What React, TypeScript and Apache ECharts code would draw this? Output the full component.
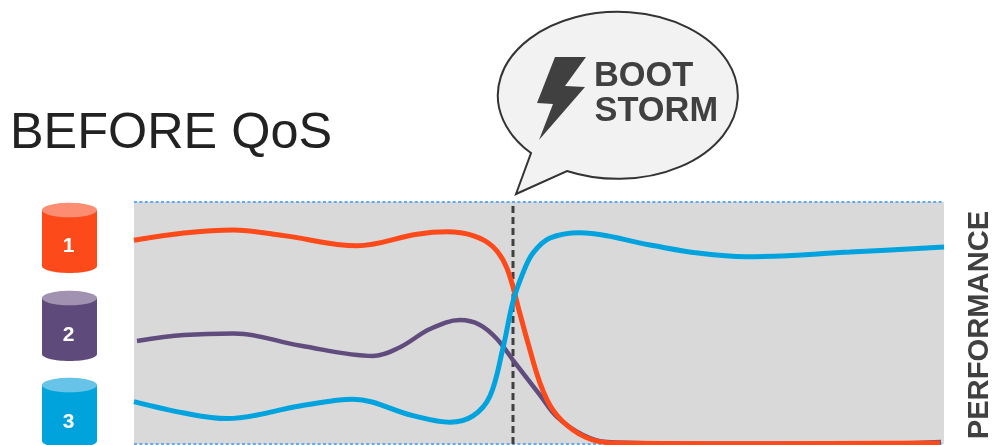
import React, { useEffect, useRef } from "react";
import * as echarts from "echarts";

// Performance of three volumes over time, on a 0-100 scale.
const volumeOne: [number, number][] = [[0, 84.2], [50, 87.2], [100, 88.4], [150, 86.1], [223, 81.9], [283, 86.7], [313, 87.7], [339, 86.1], [359, 81.5], [373, 72.6], [386, 53.7], [394, 41.7], [406, 25.2], [419, 14], [439, 5.8], [463, 1.2], [486, 0.4], [626, 0.1], [806, 0.4]];
const volumeTwo: [number, number][] = [[3, 42.6], [50, 45], [100, 45.7], [167, 40.6], [239, 36.4], [266, 40], [296, 47.5], [326, 51.2], [346, 49.2], [363, 43.4], [379, 34.7], [406, 20.2], [423, 11.2], [449, 3.7], [473, 0.8], [566, 0.1], [766, 0.2], [807, 0.8]];
const volumeThree: [number, number][] = [[0, 17.5], [50, 12.8], [93, 10.5], [167, 15.8], [219, 18.5], [279, 11.7], [316, 9], [339, 11.6], [356, 19.8], [369, 39.7], [379, 58.8], [389, 70.7], [399, 78.9], [416, 85.1], [446, 87.3], [516, 82.2], [566, 78.8], [612, 77.4], [716, 79.3], [810, 81.4]];
const bootStormMark: [number, number][] = [[379, 0], [379, 100]];
const volumeLabels = ["1", "2", "3"];
const bodyColors = ["#fc4a1a", "#5f4b7b", "#00a3dc"];
const lidColors = ["#fd8d72", "#a092b0", "#68c3e8"];
const lidCentres = [210, 298, 385];
const labelCentres = [244, 333, 420];

const FONT = '"Liberation Sans", Arial, sans-serif';
const INK = "#404040";

echarts.graphic.registerShape(
  "speechBubble",
  echarts.graphic.extendPath("M531 153 A120 83.5 0 1 1 567 171 L516 194 Z", {})
);

// One drum icon: body with a rounded base, lighter lid and a number on it.
function cylinder(i: number) {
  const cy = lidCentres[i];
  return [
    { type: "ellipse", z: 10, shape: { cx: 69.5, cy: cy + 56, rx: 27.5, ry: 7 }, style: { fill: bodyColors[i] } },
    { type: "rect", z: 10, shape: { x: 42, y: cy, width: 55, height: 56 }, style: { fill: bodyColors[i] } },
    { type: "ellipse", z: 11, shape: { cx: 69.5, cy, rx: 27.5, ry: 7.3 }, style: { fill: lidColors[i] } },
    {
      type: "text", z: 12, x: 68.5, y: labelCentres[i],
      style: { text: volumeLabels[i], fill: "#fff", font: `bold 21px ${FONT}`, align: "center", verticalAlign: "middle" },
    },
  ];
}

export default function App() {
  const ref = useRef<HTMLDivElement>(null);

  useEffect(() => {
    document.body.style.margin = "0";
    const chart = echarts.init(ref.current!, undefined, { renderer: "svg" });
    const curve = (name: string, data: [number, number][], color: string, width: number, z: number) => ({
      name, type: "line", data, z, smooth: 0.36, clip: false, showSymbol: false, symbol: "none",
      lineStyle: { color, width },
    });
    chart.setOption({
      animation: false,
      grid: { left: 134, top: 202, width: 810, height: 242, show: true, backgroundColor: "#d9d9d9", borderWidth: 0 },
      xAxis: { type: "value", min: 0, max: 810, show: false },
      yAxis: {
        type: "value", min: 0, max: 100, interval: 100,
        axisLine: { show: false }, axisTick: { show: false }, axisLabel: { show: false },
        splitLine: { show: true, lineStyle: { color: "#5cabf7", width: 2, type: [3, 2.4] } },
      },
      series: [
        {
          name: "Boot storm", type: "line", data: bootStormMark, z: 2, showSymbol: false, symbol: "none",
          lineStyle: { color: INK, width: 3, type: [7, 4] },
        },
        curve("2", volumeTwo, "#604c7d", 4.5, 3),
        curve("1", volumeOne, "#fc4a1a", 5, 4),
        curve("3", volumeThree, "#00a3dd", 5, 5),
      ],
      graphic: [
        {
          type: "text", x: 10, y: 130,
          style: { text: "BEFORE QoS", fill: "#222222", font: `50.4px ${FONT}`, verticalAlign: "middle" },
        },
        { type: "speechBubble", x: 0, y: 0, z: 6, style: { fill: "#f2f2f2", stroke: "#333333", lineWidth: 2 } },
        {
          type: "polygon", z: 7,
          shape: { points: [[555, 57], [586, 57], [565, 86], [585, 87], [539, 140], [553, 104], [537, 103]] },
          style: { fill: INK },
        },
        {
          type: "text", z: 7, x: 594, y: 73.5,
          style: { text: "BOOT", fill: INK, font: `bold 34.4px ${FONT}`, verticalAlign: "middle" },
        },
        {
          type: "text", z: 7, x: 594.5, y: 109,
          style: { text: "STORM", fill: INK, font: `bold 34.4px ${FONT}`, verticalAlign: "middle" },
        },
        {
          type: "text", x: 977.5, y: 325, rotation: Math.PI / 2,
          style: { text: "PERFORMANCE", fill: INK, font: `bold 29.2px ${FONT}`, lineHeight: 24, align: "center", verticalAlign: "middle" },
        },
        ...volumeLabels.flatMap((_, i) => cylinder(i)),
      ],
    });
    return () => chart.dispose();
  }, []);

  return <div ref={ref} style={{ position: "fixed", left: 0, top: 0, width: 992, height: 445 }} />;
}
